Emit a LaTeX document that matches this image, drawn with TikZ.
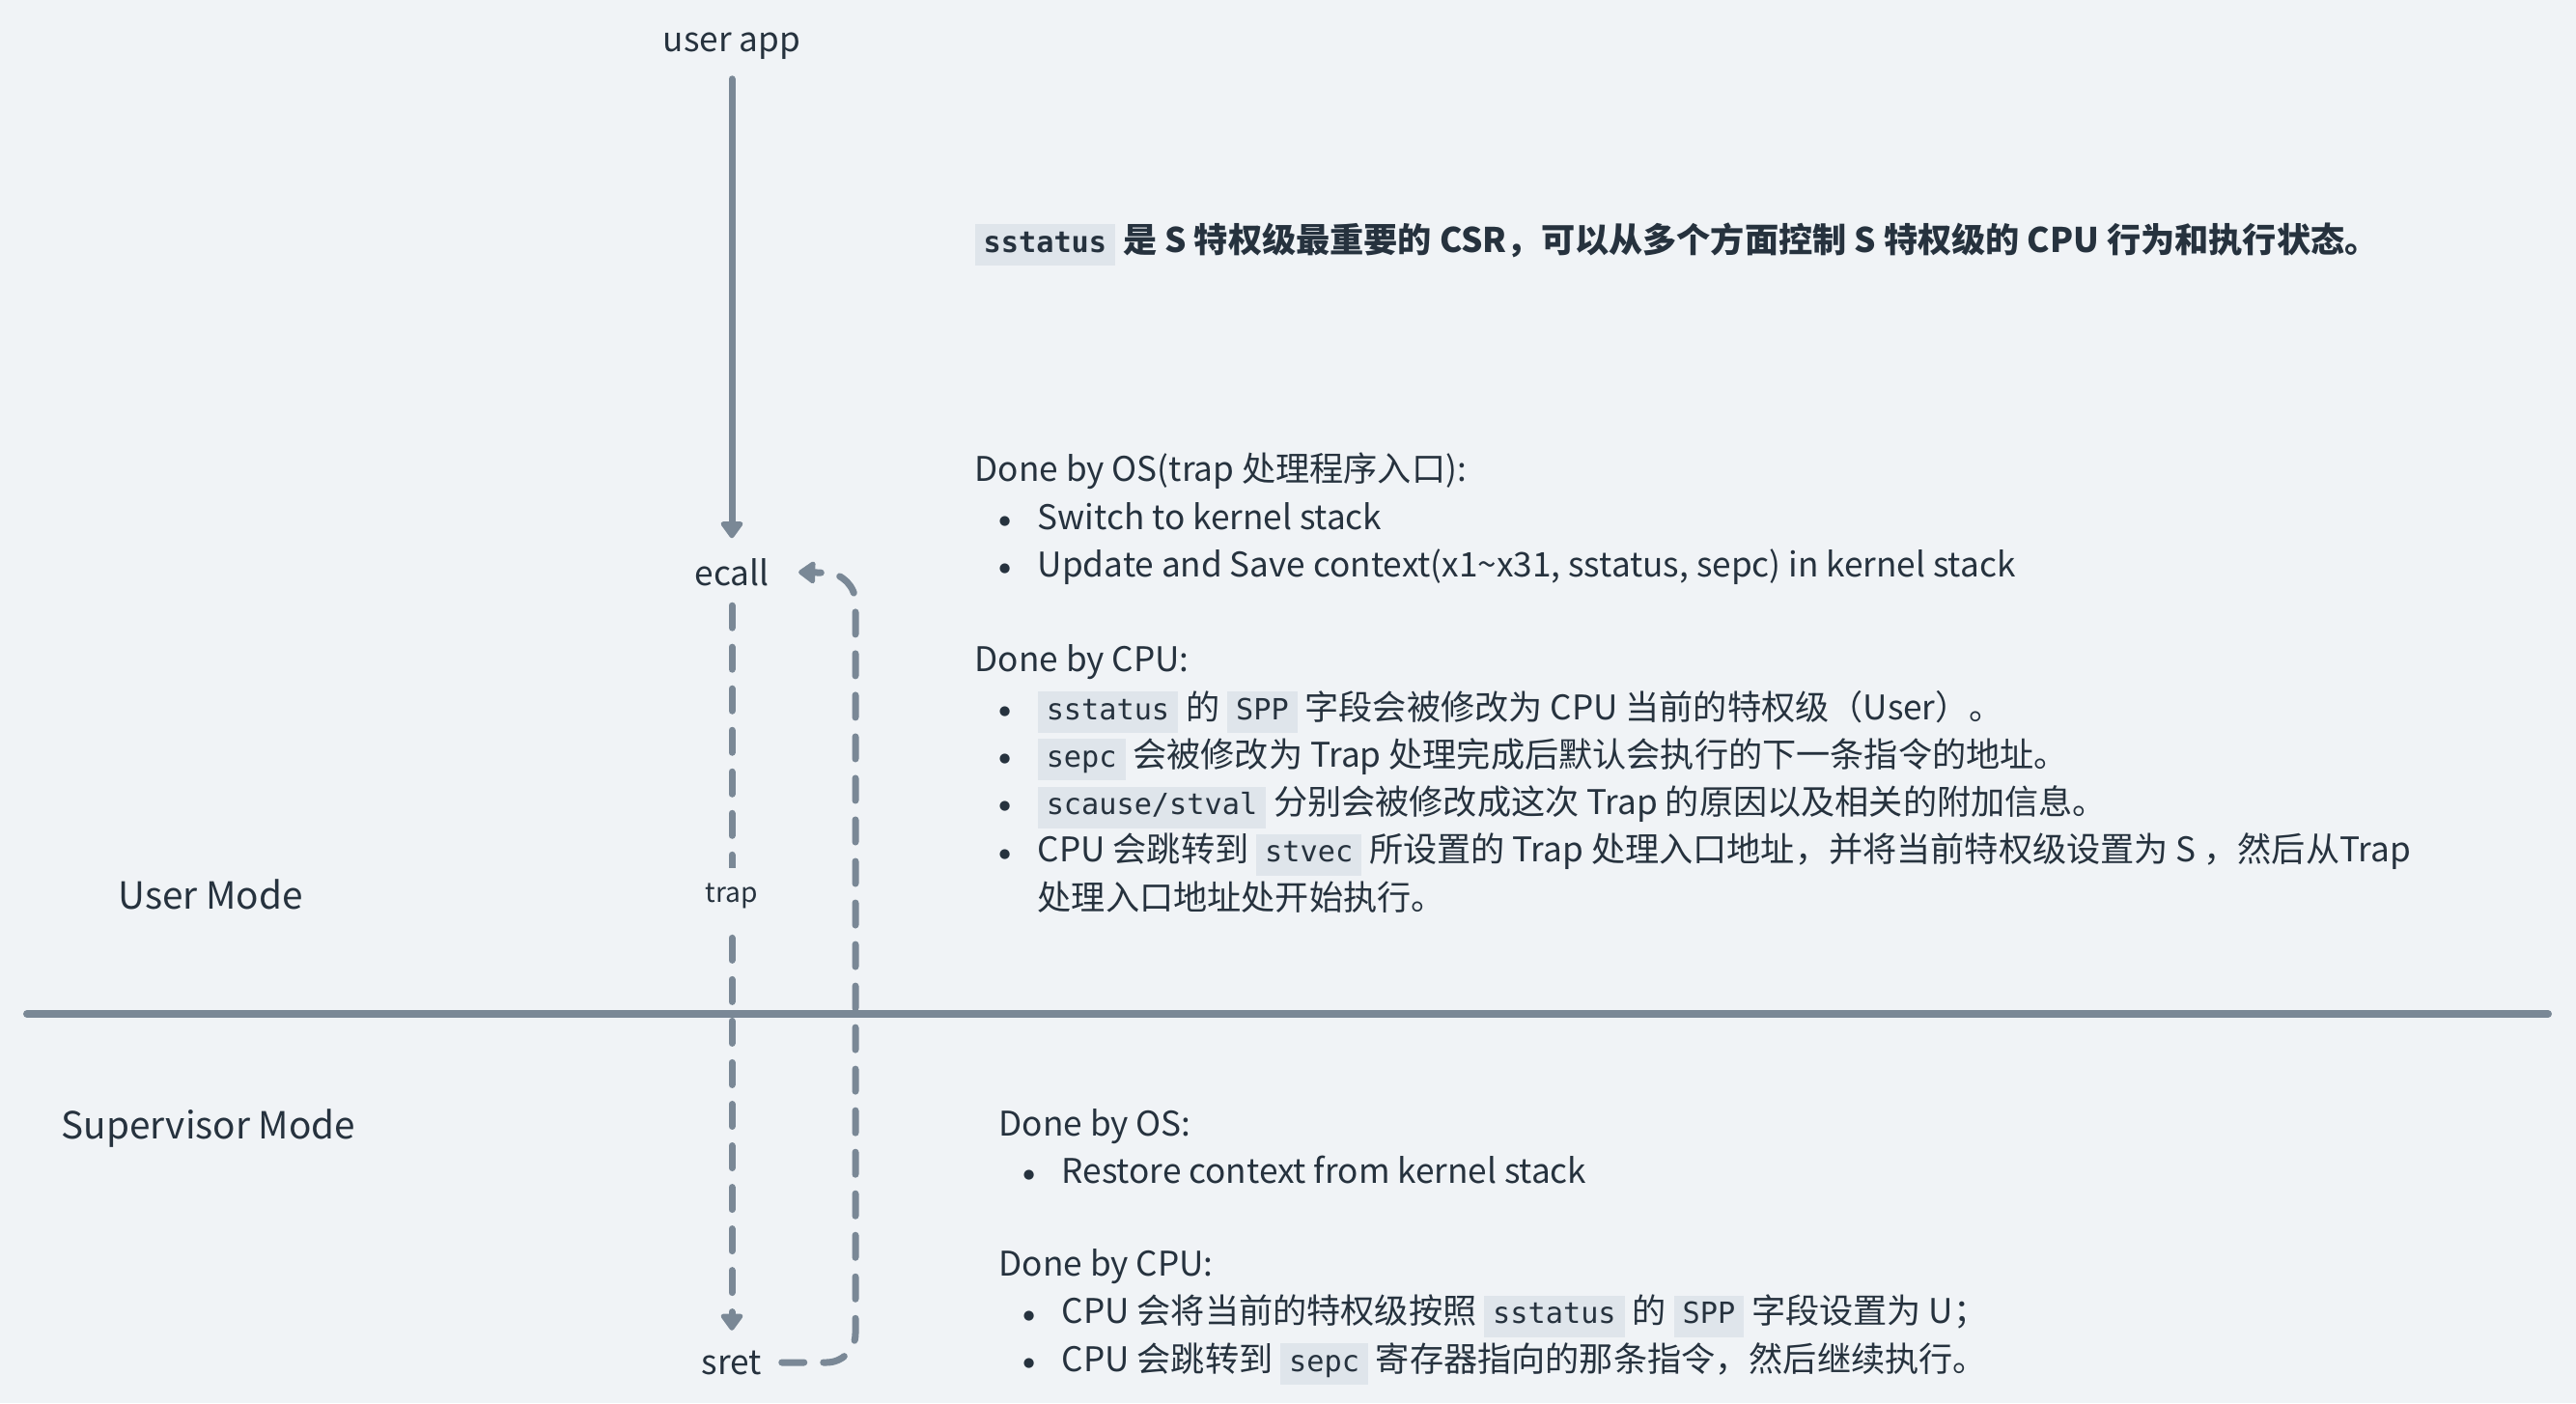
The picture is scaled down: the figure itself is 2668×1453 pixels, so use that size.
\documentclass[tikz,border=0pt]{standalone}
\usepackage{fontspec}
\setmainfont{Noto Sans CJK SC}
\newfontfamily\codefont{DejaVu Sans Mono}
\newfontfamily\symfont{DejaVu Sans}
\definecolor{TrapInk}{HTML}{26323E}
\definecolor{TrapSlate}{HTML}{7A8896}
\definecolor{TrapBg}{HTML}{F0F3F6}
\definecolor{TrapCode}{HTML}{DFE5EB}
\usetikzlibrary{arrows.meta,positioning}
\newcommand{\code}[1]{{\setlength{\fboxsep}{0pt}\colorbox{TrapCode}{\rule[-0.14cm]{0pt}{0.43cm}\hspace{0.09cm}{\codefont\fontsize{8.6pt}{10pt}\selectfont #1}\hspace{0.09cm}}}}
\newcommand{\itm}{\hspace*{0.27cm}\makebox[0.08cm]{\raisebox{1.3pt}{\symfont\fontsize{3.8pt}{4pt}\selectfont ●}}\hspace*{0.30cm}}

\begin{document}
\begin{tikzpicture}[
    x=0.01cm, y=-0.01cm,
    lbl/.style={font=\fontsize{10pt}{12pt}\selectfont, text=TrapInk, inner sep=0.2cm, anchor=base},
    mode/.style={font=\fontsize{11pt}{14pt}\selectfont, text=TrapInk},
    txt/.style={font=\fontsize{10pt}{14pt}\selectfont, text=TrapInk, align=left, inner sep=0pt, anchor=base west},
    arr/.style={-{Triangle[width=0.26cm,length=0.19cm,round]}, line width=0.07cm, TrapSlate, line cap=round},
    dashline/.style={arr, dash pattern=on 0.23cm off 0.20cm}
  ]
    \fill[TrapBg] (0,0) rectangle (2668,1453);
    \useasboundingbox (0,0) rectangle (2668,1453);

    \node[lbl] (app) at (758,53) {user app};
    \node[lbl] (ecall) at (758,606) {ecall};
    \node[lbl] (sret) at (758,1423) {sret};
    \coordinate (loop) at (886,594);

    \node[mode] (user) at (218,926) {User Mode};
    \node[mode] (sup) at (216,1169) {Supervisor Mode};

    \draw[line width=0.08cm, TrapSlate, line cap=round] (28,1050) -- (2639,1050);

    \draw[arr] (app) -- (ecall);
    \draw[dashline] (ecall) -- node[pos=0.40, fill=TrapBg, text=TrapInk, inner sep=0.15cm,
      font=\fontsize{8pt}{10pt}\selectfont] (trap) {trap} (sret);
    \draw[dashline, rounded corners=0.3cm, shorten >=0.1cm] (sret.east) -| (loop) -- (ecall.east);

    \node[txt, font=\bfseries\fontsize{10pt}{14pt}\selectfont] (title) at (1009,261)
      {\code{\bfseries sstatus} 是 S 特权级最重要的 CSR，可以从多个方面控制 S 特权级的 CPU 行为和执行状态。};

    \node[txt] (trapin) at (1009,942) {Done by OS(trap 处理程序入口):\\
      \itm Switch to kernel stack\\
      \itm Update and Save context(x1\textasciitilde x31, sstatus, sepc) in kernel stack\\[0.493cm]
      Done by CPU:\\
      \itm \code{sstatus} 的 \code{SPP} 字段会被修改为 CPU 当前的特权级（User）。\\
      \itm \code{sepc} 会被修改为 Trap 处理完成后默认会执行的下一条指令的地址。\\
      \itm \code{scause/stval} 分别会被修改成这次 Trap 的原因以及相关的附加信息。\\
      \itm CPU 会跳转到 \code{stvec} 所设置的 Trap 处理入口地址，并将当前特权级设置为 S ，然后从Trap\\
      \hspace*{0.65cm}处理入口地址处开始执行。};

    \node[txt] (trapout) at (1034,1420) {Done by OS:\\
      \itm Restore context from kernel stack\\[0.47cm]
      Done by CPU:\\
      \itm CPU 会将当前的特权级按照 \code{sstatus} 的 \code{SPP} 字段设置为 U；\\
      \itm CPU 会跳转到 \code{sepc} 寄存器指向的那条指令，然后继续执行。};
  \end{tikzpicture}
\end{document}
